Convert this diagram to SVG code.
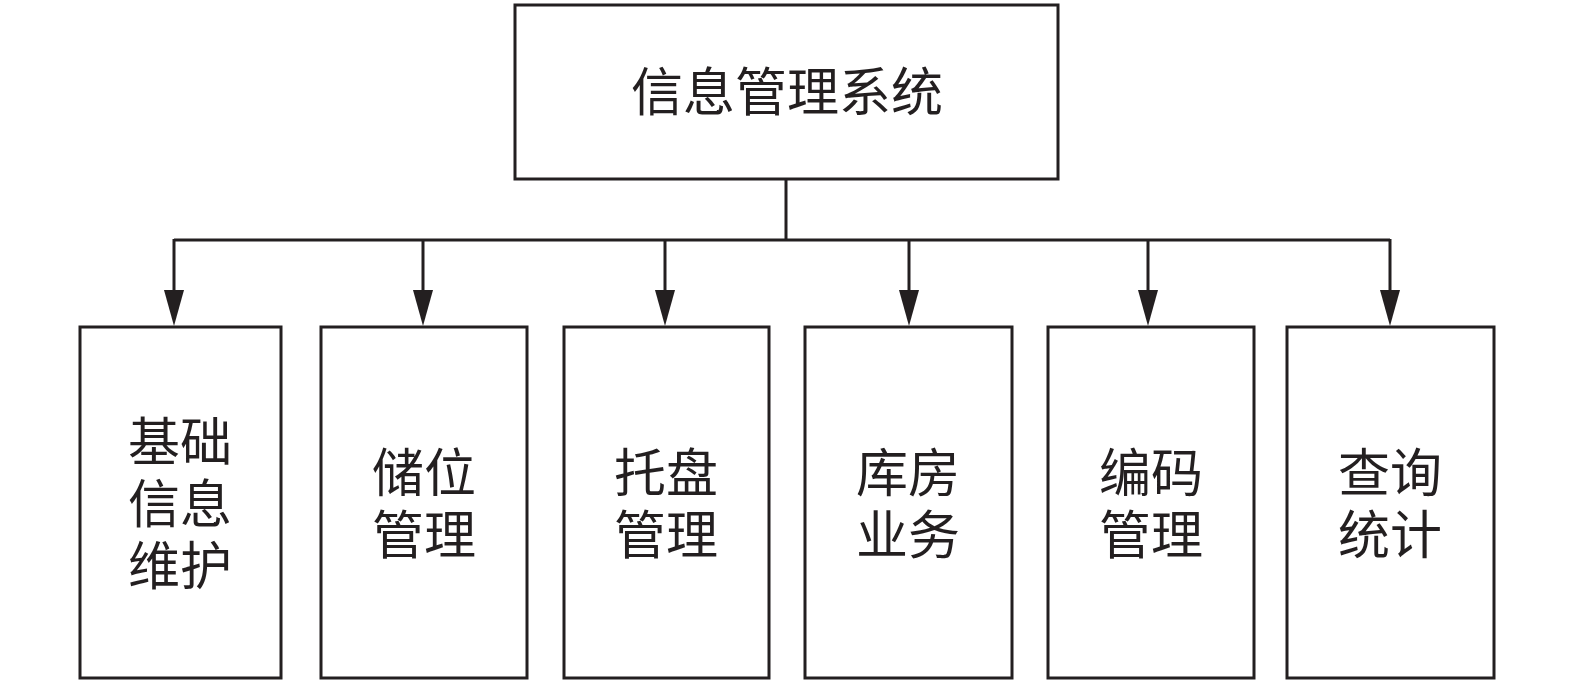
<svg xmlns="http://www.w3.org/2000/svg" width="1575" height="683" viewBox="0 0 1575 683">
<style>
.box{fill:#fff;stroke:#231f20;stroke-width:3}
.ln{fill:none;stroke:#231f20;stroke-width:3}
.t{font-family:"Noto Sans CJK SC","Noto Sans CJK TC",sans-serif;font-size:52px;fill:#231f20;text-anchor:middle;dominant-baseline:central}
</style>
<defs>
<marker id="ah" markerUnits="userSpaceOnUse" markerWidth="37" markerHeight="21" refX="0" refY="10" orient="auto" viewBox="0 0 37 21">
<path d="M0,0 L36,10 L0,20 z" fill="#231f20"/>
</marker>
</defs>
<g id="connectors">
<path class="ln" d="M786,179 V240"/>
<path class="ln" d="M174,240 H1390"/>
<path class="ln" d="M174,239 V290" marker-end="url(#ah)"/>
<path class="ln" d="M423,240 V290" marker-end="url(#ah)"/>
<path class="ln" d="M665,240 V290" marker-end="url(#ah)"/>
<path class="ln" d="M909,240 V290" marker-end="url(#ah)"/>
<path class="ln" d="M1148,240 V290" marker-end="url(#ah)"/>
<path class="ln" d="M1390,239 V290" marker-end="url(#ah)"/>
</g>
<g id="root">
<rect class="box" x="515" y="5" width="543" height="174"/>
<text class="t" x="787" y="88">信息管理系统</text>
</g>
<g id="n1">
<rect class="box" x="80" y="327" width="201" height="351"/>
<text class="t"><tspan x="180" y="438">基础</tspan><tspan x="180" y="500">信息</tspan><tspan x="180" y="562">维护</tspan></text>
</g>
<g id="n2">
<rect class="box" x="321" y="327" width="206" height="351"/>
<text class="t"><tspan x="424" y="469">储位</tspan><tspan x="424" y="531">管理</tspan></text>
</g>
<g id="n3">
<rect class="box" x="564" y="327" width="205" height="351"/>
<text class="t"><tspan x="666" y="469">托盘</tspan><tspan x="666" y="531">管理</tspan></text>
</g>
<g id="n4">
<rect class="box" x="805" y="327" width="207" height="351"/>
<text class="t"><tspan x="908" y="469">库房</tspan><tspan x="908" y="531">业务</tspan></text>
</g>
<g id="n5">
<rect class="box" x="1048" y="327" width="206" height="351"/>
<text class="t"><tspan x="1151" y="469">编码</tspan><tspan x="1151" y="531">管理</tspan></text>
</g>
<g id="n6">
<rect class="box" x="1287" y="327" width="207" height="351"/>
<text class="t"><tspan x="1390" y="469">查询</tspan><tspan x="1390" y="531">统计</tspan></text>
</g>
</svg>
